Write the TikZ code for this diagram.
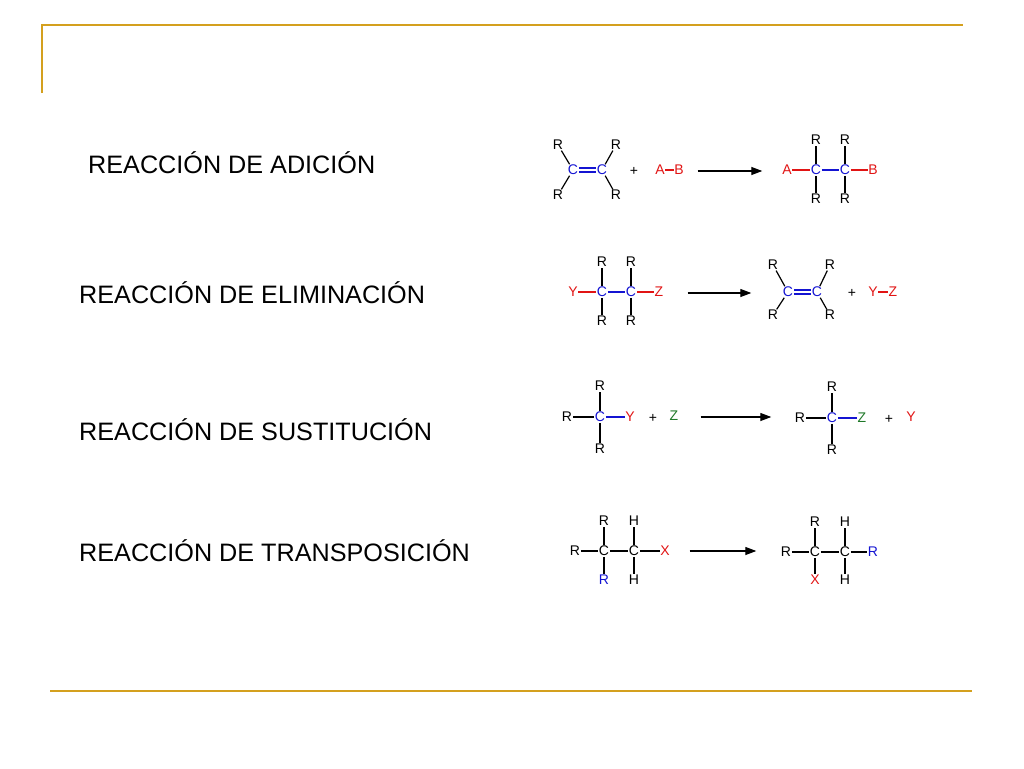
\documentclass[tikz,border=0pt]{standalone}
\usepackage{fontspec}
\setmainfont{Liberation Sans}
\usetikzlibrary{arrows.meta}
\definecolor{gold}{RGB}{212,160,30}
\definecolor{cb}{RGB}{20,20,210}
\definecolor{cr}{RGB}{225,20,20}
\definecolor{cg}{RGB}{30,120,40}
\begin{document}
\begin{tikzpicture}[x=1pt,y=-1pt,
 atm/.style={inner sep=0.6pt,font=\fontsize{14}{15}\selectfont},
 bl/.style={atm,text=cb}, rd/.style={atm,text=cr}, gr/.style={atm,text=cg},
 bd/.style={line width=1.2pt},
 rx/.style={-{Triangle[length=11pt,width=8pt]},line width=1.2pt},
 head/.style={anchor=west,font=\fontsize{25.2}{28}\selectfont,inner sep=0pt}]
\useasboundingbox (0,0) rectangle (1024,768);
\draw[gold,line width=2.6pt] (42,93) -- (42,25) coordinate (tl) -- (963,25);
\draw[gold,line width=2.6pt] (50,691) -- (972,691);
\node[head] (h1) at (88,163) {REACCIÓN DE ADICIÓN};
\node[head] (h2) at (79,293) {REACCIÓN DE ELIMINACIÓN};
\node[head] (h3) at (79,430) {REACCIÓN DE SUSTITUCIÓN};
\node[head] (h4) at (79,551) {REACCIÓN DE TRANSPOSICIÓN};
% reaction 1
\node[bl] (a1) at (573,170) {C}; \node[bl] (a2) at (602,170) {C};
\node[atm] (a3) at (558,145) {R}; \node[atm] (a4) at (616,145) {R};
\node[atm] (a5) at (558,195) {R}; \node[atm] (a6) at (616,195) {R};
\draw[bd,cb] ([yshift=-2]a1.east) -- ([yshift=-2]a2.west) ([yshift=2]a1.east) -- ([yshift=2]a2.west);
\draw[bd] (a1)--(a3) (a1)--(a5) (a2)--(a4) (a2)--(a6);
\node[atm] (p1) at (634,171) {+};
\node[rd] (a7) at (660,170) {A}; \node[rd] (a8) at (679,170) {B};
\draw[bd,cr] (a7)--(a8);
\node[inner sep=0] (s1) at (697,171) {}; \node[inner sep=0] (e1) at (763,171) {};
\draw[rx] (s1)--(e1);
\node[rd] (b1) at (787,170) {A}; \node[bl] (b2) at (816,170) {C};
\node[bl] (b3) at (845,170) {C}; \node[rd] (b4) at (873,170) {B};
\node[atm] (b5) at (816,140) {R}; \node[atm] (b6) at (845,140) {R};
\node[atm] (b7) at (816,199) {R}; \node[atm] (b8) at (845,199) {R};
\draw[bd,cr] (b1)--(b2) (b3)--(b4);
\draw[bd,cb] (b2)--(b3);
\draw[bd] (b2)--(b5) (b2)--(b7) (b3)--(b6) (b3)--(b8);
% reaction 2
\node[rd] (c1) at (573,292) {Y}; \node[bl] (c2) at (602,292) {C};
\node[bl] (c3) at (631,292) {C}; \node[rd] (c4) at (659,292) {Z};
\node[atm] (c5) at (602,262) {R}; \node[atm] (c6) at (631,262) {R};
\node[atm] (c7) at (602,321) {R}; \node[atm] (c8) at (631,321) {R};
\draw[bd,cr] (c1)--(c2) (c3)--(c4);
\draw[bd,cb] (c2)--(c3);
\draw[bd] (c2)--(c5) (c2)--(c7) (c3)--(c6) (c3)--(c8);
\node[inner sep=0] (s2) at (687,293) {}; \node[inner sep=0] (e2) at (752,293) {};
\draw[rx] (s2)--(e2);
\node[bl] (d1) at (788,292) {C}; \node[bl] (d2) at (817,292) {C};
\node[atm] (d3) at (773,265) {R}; \node[atm] (d4) at (830,265) {R};
\node[atm] (d5) at (773,315) {R}; \node[atm] (d6) at (830,315) {R};
\draw[bd,cb] ([yshift=-2]d1.east) -- ([yshift=-2]d2.west) ([yshift=2]d1.east) -- ([yshift=2]d2.west);
\draw[bd] (d1)--(d3) (d1)--(d5) (d2)--(d4) (d2)--(d6);
\node[atm] (p2) at (852,293) {+};
\node[rd] (d7) at (873,292) {Y}; \node[rd] (d8) at (893,292) {Z};
\draw[bd,cr] (d7)--(d8);
% reaction 3
\node[atm] (f1) at (567,417) {R}; \node[bl] (f2) at (600,417) {C};
\node[rd] (f3) at (630,417) {Y};
\node[atm] (f4) at (600,386) {R}; \node[atm] (f5) at (600,449) {R};
\draw[bd] (f1)--(f2) (f2)--(f4) (f2)--(f5);
\draw[bd,cb] (f2)--(f3);
\node[atm] (p3) at (653,418) {+};
\node[gr] (f6) at (674,416) {Z};
\node[inner sep=0] (s3) at (700,417) {}; \node[inner sep=0] (e3) at (772,417) {};
\draw[rx] (s3)--(e3);
\node[atm] (g1) at (800,418) {R}; \node[bl] (g2) at (832,418) {C};
\node[gr] (g3) at (862,418) {Z};
\node[atm] (g4) at (832,387) {R}; \node[atm] (g5) at (832,450) {R};
\draw[bd] (g1)--(g2) (g2)--(g4) (g2)--(g5);
\draw[bd,cb] (g2)--(g3);
\node[atm] (p4) at (889,419) {+};
\node[rd] (g6) at (911,417) {Y};
% reaction 4
\node[atm] (k1) at (575,551) {R}; \node[atm] (k2) at (604,551) {C};
\node[atm] (k3) at (634,551) {C}; \node[rd] (k4) at (665,551) {X};
\node[atm] (k5) at (604,521) {R}; \node[bl] (k6) at (604,580) {R};
\node[atm] (k7) at (634,521) {H}; \node[atm] (k8) at (634,580) {H};
\draw[bd] (k1)--(k2) (k2)--(k3) (k3)--(k4) (k2)--(k5) (k2)--(k6) (k3)--(k7) (k3)--(k8);
\node[inner sep=0] (s4) at (689,551) {}; \node[inner sep=0] (e4) at (757,551) {};
\draw[rx] (s4)--(e4);
\node[atm] (m1) at (786,552) {R}; \node[atm] (m2) at (815,552) {C};
\node[atm] (m3) at (845,552) {C}; \node[bl] (m4) at (873,552) {R};
\node[atm] (m5) at (815,522) {R}; \node[rd] (m6) at (815,580) {X};
\node[atm] (m7) at (845,522) {H}; \node[atm] (m8) at (845,580) {H};
\draw[bd] (m1)--(m2) (m2)--(m3) (m3)--(m4) (m2)--(m5) (m2)--(m6) (m3)--(m7) (m3)--(m8);
\end{tikzpicture}
\end{document}
